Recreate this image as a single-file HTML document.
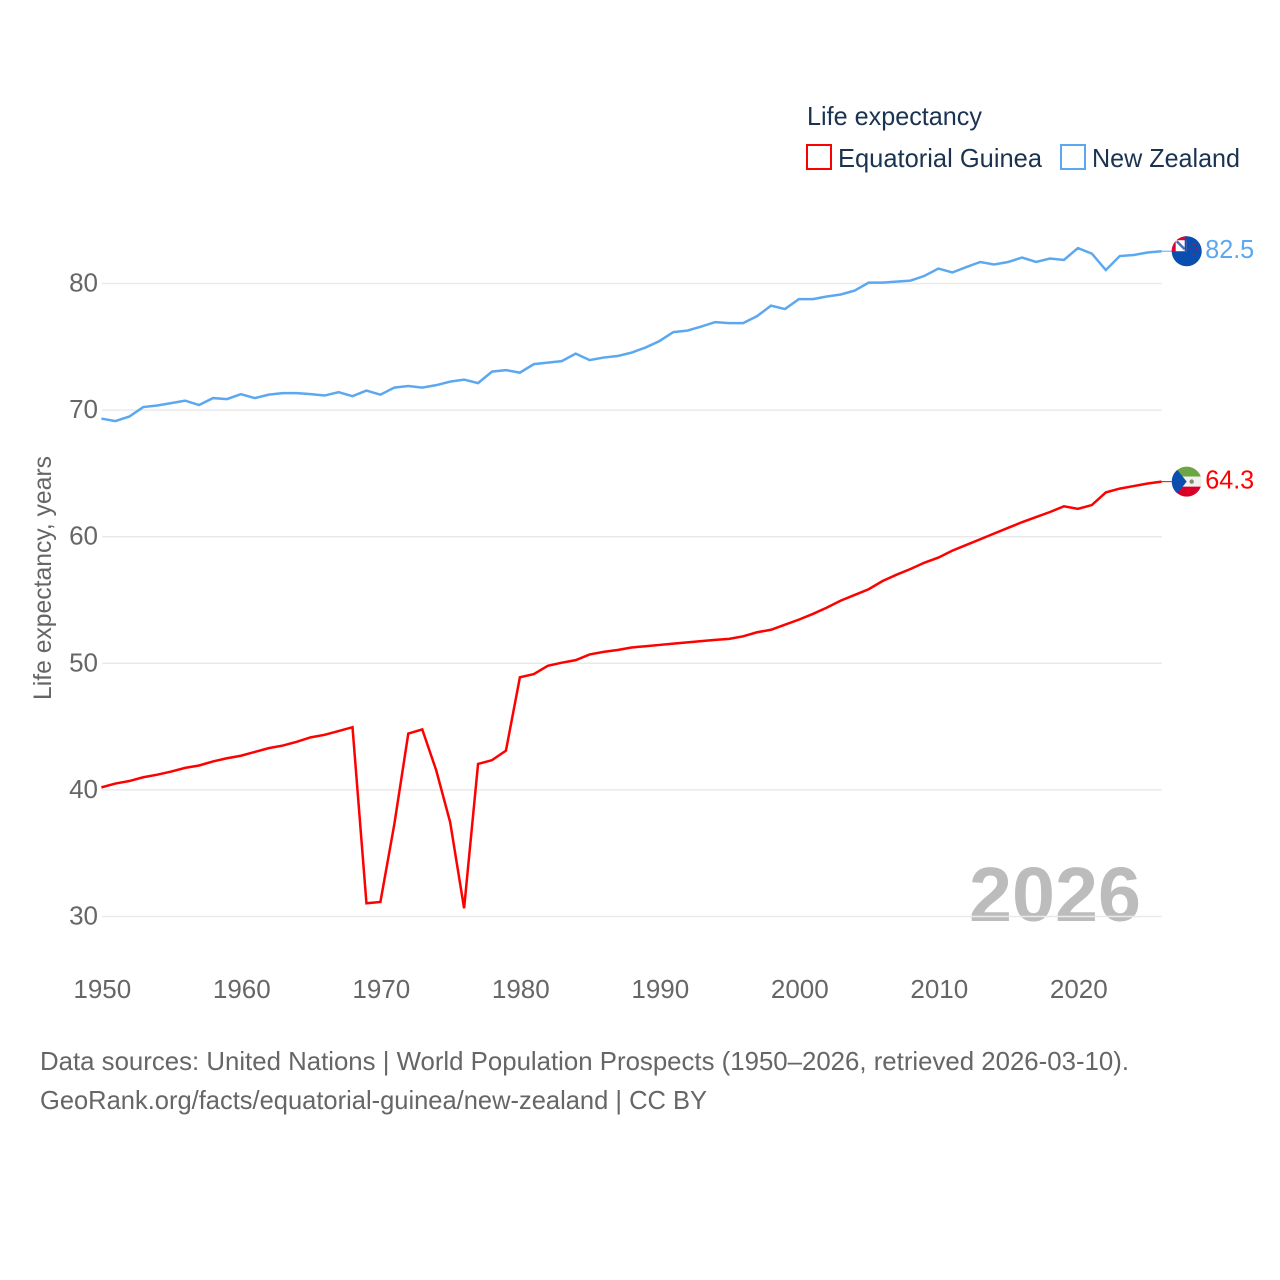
<!DOCTYPE html>
<html lang="en">
<head>
<meta charset="utf-8">
<title>Life expectancy: Equatorial Guinea and New Zealand</title>
<style>
html,body{margin:0;padding:0;background:#fff;}
svg{display:block;font-family:"Liberation Sans",sans-serif;}
</style>
</head>
<body>
<svg id="chart" xmlns="http://www.w3.org/2000/svg" width="1280" height="1280" viewBox="0 0 1280 1280">
  <defs>
    <clipPath id="flag-clip"><circle cx="0" cy="0" r="15"/></clipPath>
  </defs>
  <rect x="0" y="0" width="1280" height="1280" fill="#ffffff"/>

  <text x="807" y="125" font-size="26" fill="#1a3350" textLength="175" lengthAdjust="spacingAndGlyphs">Life expectancy</text>
  <g>
    <rect x="807" y="145" width="24" height="24" fill="none" stroke="#ff0000" stroke-width="2"/>
    <text x="838" y="167" font-size="26" fill="#1a3350" textLength="204" lengthAdjust="spacingAndGlyphs">Equatorial Guinea</text>
  </g>
  <g>
    <rect x="1061" y="145" width="24" height="24" fill="none" stroke="#5ca8f0" stroke-width="2"/>
    <text x="1092" y="167" font-size="26" fill="#1a3350" textLength="148" lengthAdjust="spacingAndGlyphs">New Zealand</text>
  </g>

  <text x="969" y="921" font-size="77" font-weight="700" fill="#bcbcbc" textLength="172" lengthAdjust="spacingAndGlyphs">2026</text>

  <g id="grid"></g>
  <g id="y-ticks"></g>
  <g id="x-ticks"></g>

  <text transform="translate(51,700) rotate(-90)" font-size="25" fill="#666666" textLength="244" lengthAdjust="spacingAndGlyphs">Life expectancy, years</text>

  <g id="series"></g>

  <g id="flag-nz">
    <g clip-path="url(#flag-clip)">
      <rect x="-16" y="-16" width="32" height="32" fill="#0a4fb0"/>
      <rect x="-16" y="-16" width="16" height="16" fill="#e4002b"/>
      <rect x="-11" y="-11" width="11" height="11" fill="#ffffff"/>
      <path d="M-10,-10 L-2,-2" stroke="#4a6fb5" stroke-width="2.5" fill="none"/>
      <rect x="-2" y="-16" width="2" height="16" fill="#0a4fb0"/>
      <circle cx="7" cy="-7" r="1" fill="#e4002b"/>
      <circle cx="3" cy="-2" r="1" fill="#e4002b"/>
      <circle cx="10" cy="-2" r="1" fill="#e4002b"/>
      <circle cx="7" cy="4" r="1" fill="#e4002b"/>
    </g>
  </g>
  <g id="flag-gq">
    <g clip-path="url(#flag-clip)">
      <rect x="-16" y="-16" width="32" height="11" fill="#6da544"/>
      <rect x="-16" y="-5" width="32" height="10" fill="#f0f0f0"/>
      <rect x="-16" y="5" width="32" height="11" fill="#d80027"/>
      <polygon points="-12,-15 0,0 -12,15 -16,15 -16,-15" fill="#0a4fb0"/>
      <circle cx="5" cy="0" r="2.2" fill="#7d8f70"/>
    </g>
  </g>

  <g id="end-labels"></g>

  <text x="40" y="1070" font-size="26" fill="#666666" textLength="1089" lengthAdjust="spacingAndGlyphs">Data sources: United Nations | World Population Prospects (1950–2026, retrieved 2026-03-10).</text>
  <text x="40" y="1109" font-size="26" fill="#666666" textLength="667" lengthAdjust="spacingAndGlyphs">GeoRank.org/facts/equatorial-guinea/new-zealand | CC BY</text>
</svg>
<script>
const firstYear = 1950;
const xTickYears = [1950, 1960, 1970, 1980, 1990, 2000, 2010, 2020];
const yTickValues = [30, 40, 50, 60, 70, 80];
const equatorialGuinea = [
  40.2, 40.5, 40.7, 41.0, 41.2, 41.45, 41.74, 41.93, 42.25, 42.5,
  42.7, 43.0, 43.3, 43.5, 43.8, 44.15, 44.35, 44.65, 44.95, 31.05,
  31.15, 37.3, 44.45, 44.78, 41.55, 37.45, 30.65, 42.05, 42.35, 43.1,
  48.9, 49.15, 49.8, 50.05, 50.25, 50.7, 50.9, 51.05, 51.25, 51.35,
  51.45, 51.55, 51.65, 51.75, 51.85, 51.93, 52.13, 52.45, 52.65, 53.05,
  53.45, 53.9, 54.4, 54.95, 55.4, 55.85, 56.5, 57.0, 57.45, 57.95,
  58.35, 58.9, 59.35, 59.8, 60.25, 60.7, 61.15, 61.55, 61.95, 62.4,
  62.2, 62.5, 63.5, 63.8, 64.0, 64.2, 64.35
];
const newZealand = [
  69.33, 69.13, 69.49, 70.24, 70.36, 70.55, 70.75, 70.4, 70.95, 70.87,
  71.26, 70.95, 71.22, 71.34, 71.34, 71.26, 71.15, 71.42, 71.1, 71.54,
  71.22, 71.78, 71.9, 71.78, 71.97, 72.25, 72.41, 72.13, 73.04, 73.16,
  72.96, 73.63, 73.75, 73.87, 74.46, 73.95, 74.15, 74.27, 74.54, 74.94,
  75.45, 76.16, 76.28, 76.6, 76.95, 76.87, 76.87, 77.42, 78.25, 77.98,
  78.77, 78.77, 78.97, 79.13, 79.44, 80.07, 80.07, 80.15, 80.23, 80.6,
  81.18, 80.87, 81.3, 81.7, 81.5, 81.7, 82.05, 81.7, 81.97, 81.86,
  82.8, 82.36, 81.06, 82.17, 82.25, 82.45, 82.55
];
const endLabelEG = "64.3";
const endLabelNZ = "82.5";

const NS = "http://www.w3.org/2000/svg";
function xScale(year) { return 101.4 + (year - 1950) * 13.95; }
function yScale(value) { return 916.5 - (value - 30) * 12.66; }

const gridGroup = document.getElementById("grid");
const yTicksGroup = document.getElementById("y-ticks");
const xTicksGroup = document.getElementById("x-ticks");
const seriesGroup = document.getElementById("series");
const endLabelsGroup = document.getElementById("end-labels");

yTickValues.forEach(function (v) {
  const line = document.createElementNS(NS, "line");
  
  
  line.setAttribute("x1", xScale(1950) + 0.6);
  line.setAttribute("x2", xScale(2026) + 0.2);
  line.setAttribute("y1", yScale(v));
  line.setAttribute("y2", yScale(v));
  line.setAttribute("stroke", "#e9e9e9");
  line.setAttribute("stroke-width", "1.5");
  gridGroup.appendChild(line);

  const label = document.createElementNS(NS, "text");
  
  
  label.setAttribute("x", 98);
  label.setAttribute("y", yScale(v) + 8);
  label.setAttribute("text-anchor", "end");
  label.setAttribute("font-size", "26");
  label.setAttribute("fill", "#666666");
  label.textContent = String(v);
  yTicksGroup.appendChild(label);
});

xTickYears.forEach(function (year) {
  const label = document.createElementNS(NS, "text");
  
  
  label.setAttribute("x", xScale(year) + 0.9);
  label.setAttribute("y", 998);
  label.setAttribute("text-anchor", "middle");
  label.setAttribute("font-size", "26");
  label.setAttribute("fill", "#666666");
  label.textContent = String(year);
  xTicksGroup.appendChild(label);
});

function pathFor(values) {
  return values.map(function (v, i) {
    return (i ? "L" : "M") + xScale(firstYear + i).toFixed(2) + "," + yScale(v).toFixed(2);
  }).join(" ");
}

const lineEG = document.createElementNS(NS, "path");


lineEG.setAttribute("d", pathFor(equatorialGuinea));
lineEG.setAttribute("fill", "none");
lineEG.setAttribute("stroke", "#ff0000");
lineEG.setAttribute("stroke-width", "2.5");
lineEG.setAttribute("stroke-linejoin", "miter");
seriesGroup.appendChild(lineEG);

const lineNZ = document.createElementNS(NS, "path");


lineNZ.setAttribute("d", pathFor(newZealand));
lineNZ.setAttribute("fill", "none");
lineNZ.setAttribute("stroke", "#5ca8f0");
lineNZ.setAttribute("stroke-width", "2.5");
lineNZ.setAttribute("stroke-linejoin", "miter");
seriesGroup.appendChild(lineNZ);

const lastEG = yScale(equatorialGuinea[equatorialGuinea.length - 1]);
const lastNZ = yScale(newZealand[newZealand.length - 1]);
const lastX = xScale(firstYear + newZealand.length - 1);

const connectorEG = document.createElementNS(NS, "line");


connectorEG.setAttribute("x1", lastX);
connectorEG.setAttribute("x2", lastX + 10);
connectorEG.setAttribute("y1", lastEG);
connectorEG.setAttribute("y2", lastEG);
connectorEG.setAttribute("stroke", "#ff0000");
connectorEG.setAttribute("stroke-width", "1");
seriesGroup.appendChild(connectorEG);

const connectorNZ = document.createElementNS(NS, "line");


connectorNZ.setAttribute("x1", lastX);
connectorNZ.setAttribute("x2", lastX + 10);
connectorNZ.setAttribute("y1", lastNZ);
connectorNZ.setAttribute("y2", lastNZ);
connectorNZ.setAttribute("stroke", "#5ca8f0");
connectorNZ.setAttribute("stroke-width", "1");
seriesGroup.appendChild(connectorNZ);

document.getElementById("flag-nz").setAttribute("transform", "translate(" + (lastX + 25.1) + "," + lastNZ + ")");
document.getElementById("flag-gq").setAttribute("transform", "translate(" + (lastX + 25.1) + "," + lastEG + ")");

const valueEG = document.createElementNS(NS, "text");


valueEG.setAttribute("x", lastX + 43.6);
valueEG.setAttribute("y", lastEG + 7);
valueEG.setAttribute("font-size", "26");
valueEG.setAttribute("fill", "#ff0000");
valueEG.setAttribute("textLength", "49");
valueEG.setAttribute("lengthAdjust", "spacingAndGlyphs");
valueEG.textContent = endLabelEG;
endLabelsGroup.appendChild(valueEG);

const valueNZ = document.createElementNS(NS, "text");


valueNZ.setAttribute("x", lastX + 43.6);
valueNZ.setAttribute("y", lastNZ + 7);
valueNZ.setAttribute("font-size", "26");
valueNZ.setAttribute("fill", "#5ca8f0");
valueNZ.setAttribute("textLength", "49");
valueNZ.setAttribute("lengthAdjust", "spacingAndGlyphs");
valueNZ.textContent = endLabelNZ;
endLabelsGroup.appendChild(valueNZ);
</script>
</body>
</html>
